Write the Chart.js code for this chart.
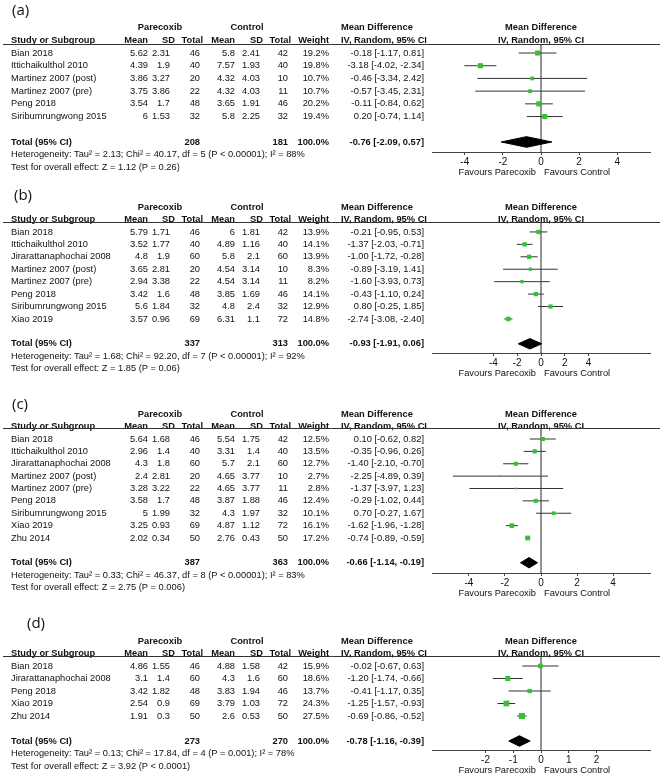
<!DOCTYPE html>
<html>
<head>
<meta charset="utf-8">
<title>Forest plots - Parecoxib vs Control</title>
<script src="https://cdn.jsdelivr.net/npm/chart.js@4.4.1/dist/chart.umd.min.js"></script>
<style>
  html, body { margin: 0; padding: 0; background: #fff; }
  #page { position: relative; width: 660px; height: 777px; overflow: hidden; }
  #page canvas { position: absolute; left: 0; }
</style>
</head>
<body>
<div id="page">
  <canvas id="plotA" width="660" height="188" style="top:0px"></canvas>
  <canvas id="plotB" width="660" height="202" style="top:188px"></canvas>
  <canvas id="plotC" width="660" height="210" style="top:390px"></canvas>
  <canvas id="plotD" width="660" height="177" style="top:600px"></canvas>
</div>
<script>
// === Panel (a) ===
const studiesA = ["Bian 2018", "Ittichaikulthol 2010", "Martinez 2007 (post)", "Martinez 2007 (pre)", "Peng 2018", "Siribumrungwong 2015"];
const parMeanA = [5.62, 4.39, 3.86, 3.75, 3.54, 6];
const parSdA = [2.31, 1.9, 3.27, 3.86, 1.7, 1.53];
const parNA = [46, 40, 20, 22, 48, 32];
const ctlMeanA = [5.8, 7.57, 4.32, 4.32, 3.65, 5.8];
const ctlSdA = [2.41, 1.93, 4.03, 4.03, 1.91, 2.25];
const ctlNA = [42, 40, 10, 11, 46, 32];
const weightA = [19.2, 19.8, 10.7, 10.7, 20.2, 19.4];
const mdA = [-0.18, -3.18, -0.46, -0.57, -0.11, 0.20];
const lowA = [-1.17, -4.02, -3.34, -3.45, -0.84, -0.74];
const highA = [0.81, -2.34, 2.42, 2.31, 0.62, 1.14];
const totalNA = [208, 181];
const totalMdA = [-0.76, -2.09, 0.57];
const hetA = "Heterogeneity: Tau² = 2.13; Chi² = 40.17, df = 5 (P < 0.00001); I² = 88%";
const testA = "Test for overall effect: Z = 1.12 (P = 0.26)";
const ticksA = [-4, -2, 0, 2, 4];

// === Panel (b) ===
const studiesB = ["Bian 2018", "Ittichaikulthol 2010", "Jirarattanaphochai 2008", "Martinez 2007 (post)", "Martinez 2007 (pre)", "Peng 2018", "Siribumrungwong 2015", "Xiao 2019"];
const parMeanB = [5.79, 3.52, 4.8, 3.65, 2.94, 3.42, 5.6, 3.57];
const parSdB = [1.71, 1.77, 1.9, 2.81, 3.38, 1.6, 1.84, 0.96];
const parNB = [46, 40, 60, 20, 22, 48, 32, 69];
const ctlMeanB = [6, 4.89, 5.8, 4.54, 4.54, 3.85, 4.8, 6.31];
const ctlSdB = [1.81, 1.16, 2.1, 3.14, 3.14, 1.69, 2.4, 1.1];
const ctlNB = [42, 40, 60, 10, 11, 46, 32, 72];
const weightB = [13.9, 14.1, 13.9, 8.3, 8.2, 14.1, 12.9, 14.8];
const mdB = [-0.21, -1.37, -1.00, -0.89, -1.60, -0.43, 0.80, -2.74];
const lowB = [-0.95, -2.03, -1.72, -3.19, -3.93, -1.10, -0.25, -3.08];
const highB = [0.53, -0.71, -0.28, 1.41, 0.73, 0.24, 1.85, -2.40];
const totalNB = [337, 313];
const totalMdB = [-0.93, -1.91, 0.06];
const hetB = "Heterogeneity: Tau² = 1.68; Chi² = 92.20, df = 7 (P < 0.00001); I² = 92%";
const testB = "Test for overall effect: Z = 1.85 (P = 0.06)";
const ticksB = [-4, -2, 0, 2, 4];

// === Panel (c) ===
const studiesC = ["Bian 2018", "Ittichaikulthol 2010", "Jirarattanaphochai 2008", "Martinez 2007 (post)", "Martinez 2007 (pre)", "Peng 2018", "Siribumrungwong 2015", "Xiao 2019", "Zhu 2014"];
const parMeanC = [5.64, 2.96, 4.3, 2.4, 3.28, 3.58, 5, 3.25, 2.02];
const parSdC = [1.68, 1.4, 1.8, 2.81, 3.22, 1.7, 1.99, 0.93, 0.34];
const parNC = [46, 40, 60, 20, 22, 48, 32, 69, 50];
const ctlMeanC = [5.54, 3.31, 5.7, 4.65, 4.65, 3.87, 4.3, 4.87, 2.76];
const ctlSdC = [1.75, 1.4, 2.1, 3.77, 3.77, 1.88, 1.97, 1.12, 0.43];
const ctlNC = [42, 40, 60, 10, 11, 46, 32, 72, 50];
const weightC = [12.5, 13.5, 12.7, 2.7, 2.8, 12.4, 10.1, 16.1, 17.2];
const mdC = [0.10, -0.35, -1.40, -2.25, -1.37, -0.29, 0.70, -1.62, -0.74];
const lowC = [-0.62, -0.96, -2.10, -4.89, -3.97, -1.02, -0.27, -1.96, -0.89];
const highC = [0.82, 0.26, -0.70, 0.39, 1.23, 0.44, 1.67, -1.28, -0.59];
const totalNC = [387, 363];
const totalMdC = [-0.66, -1.14, -0.19];
const hetC = "Heterogeneity: Tau² = 0.33; Chi² = 46.37, df = 8 (P < 0.00001); I² = 83%";
const testC = "Test for overall effect: Z = 2.75 (P = 0.006)";
const ticksC = [-4, -2, 0, 2, 4];

// === Panel (d) ===
const studiesD = ["Bian 2018", "Jirarattanaphochai 2008", "Peng 2018", "Xiao 2019", "Zhu 2014"];
const parMeanD = [4.86, 3.1, 3.42, 2.54, 1.91];
const parSdD = [1.55, 1.4, 1.82, 0.9, 0.3];
const parND = [46, 60, 48, 69, 50];
const ctlMeanD = [4.88, 4.3, 3.83, 3.79, 2.6];
const ctlSdD = [1.58, 1.6, 1.94, 1.03, 0.53];
const ctlND = [42, 60, 46, 72, 50];
const weightD = [15.9, 18.6, 13.7, 24.3, 27.5];
const mdD = [-0.02, -1.20, -0.41, -1.25, -0.69];
const lowD = [-0.67, -1.74, -1.17, -1.57, -0.86];
const highD = [0.63, -0.66, 0.35, -0.93, -0.52];
const totalND = [273, 270];
const totalMdD = [-0.78, -1.16, -0.39];
const hetD = "Heterogeneity: Tau² = 0.13; Chi² = 17.84, df = 4 (P = 0.001); I² = 78%";
const testD = "Test for overall effect: Z = 3.92 (P < 0.0001)";
const ticksD = [-2, -1, 0, 1, 2];

// === Estilo / layout ===
const FONT = "'Liberation Sans', Arial, sans-serif";
const REG = "9.3px " + FONT;
const BOLD = "bold 9.3px " + FONT;
const TXT = "#111";
const GREEN = "#36c036";
const HEAD_X = [148, 175, 203, 235, 263, 291, 329];
const VAL_X = [148, 170, 200, 235, 260, 288, 329];
const MD_LEFT = 341, MD_RIGHT = 424;

// top/axis are pixel offsets inside each canvas, off/yMax are in row units
const layoutA = { label: "(a)", labelX: 12, labelY: 11, top: 44, axis: 152, off: 0.71, yMax: 8.5, xMin: -5.72, xMax: 5.72 };
const layoutB = { label: "(b)", labelX: 14, labelY: 8, top: 34, axis: 165, off: 0.8, yMax: 10.54, xMin: -9.15, xMax: 9.15 };
const layoutC = { label: "(c)", labelX: 12, labelY: 15, top: 38, axis: 183, off: 0.89, yMax: 11.72, xMin: -6.05, xMax: 6.05 };
const layoutD = { label: "(d)", labelX: 27, labelY: 24, top: 56, axis: 150, off: 0.8, yMax: 7.52, xMin: -3.93, xMax: 3.93 };

function fmtCI(md, lo, hi){
  return `${md.toFixed(2)} [${lo.toFixed(2)}, ${hi.toFixed(2)}]`;
}

// === Painel ===
function makePanel(canvasId, p, lay){
  const canvas = document.getElementById(canvasId);
  const H = canvas.height;
  const n = p.studies.length;
  const totalRow = n + 1;
  const yT = totalRow + lay.off;

  const datasets = [];
  // quadrados (peso)
  datasets.push({
    data: p.md.map((v, i) => ({ x: v, y: i + lay.off })),
    pointStyle: "rect",
    pointRadius: p.weight.map(w => Math.sqrt(w) * 0.82),
    pointBackgroundColor: GREEN,
    pointBorderWidth: 0,
    showLine: false,
    order: 0
  });
  // diamante do total
  datasets.push({
    data: [
      { x: p.totalMd[1], y: yT },
      { x: p.totalMd[0], y: yT - 0.42 },
      { x: p.totalMd[2], y: yT },
      { x: p.totalMd[0], y: yT + 0.42 },
      { x: p.totalMd[1], y: yT }
    ],
    showLine: true,
    borderColor: "#000",
    borderWidth: 1,
    backgroundColor: "#000",
    fill: "shape",
    pointRadius: 0,
    tension: 0,
    order: 1
  });
  // intervalos de confiança
  p.md.forEach((v, i) => {
    datasets.push({
      data: [{ x: p.low[i], y: i + lay.off }, { x: p.high[i], y: i + lay.off }],
      showLine: true,
      borderColor: "#333",
      borderWidth: 1,
      pointRadius: 0,
      order: 2
    });
  });
  // linha do zero
  datasets.push({
    data: [{ x: 0, y: 0 }, { x: 0, y: lay.yMax }],
    showLine: true,
    borderColor: "#939393",
    borderWidth: 2,
    pointRadius: 0,
    order: 3
  });

  const tablePlugin = {
    id: "forestTable",
    afterDraw(chart){
      const ctx = chart.ctx;
      const ys = chart.scales.y, xs = chart.scales.x;
      const area = chart.chartArea;
      const rowY = r => ys.getPixelForValue(r + lay.off);
      const zeroX = xs.getPixelForValue(0);

      ctx.save();
      ctx.fillStyle = TXT;
      ctx.textBaseline = "middle";

      ctx.font = "15px 'Open Sans', sans-serif";
      ctx.textAlign = "left";
      ctx.fillText(lay.label, lay.labelX, lay.labelY);

      // cabeçalhos
      ctx.font = BOLD;
      ctx.textAlign = "center";
      ctx.fillText("Parecoxib", 160, rowY(-2));
      ctx.fillText("Control", 247, rowY(-2));
      ctx.fillText("Mean Difference", zeroX, rowY(-2));
      ctx.fillText("IV, Random, 95% CI", zeroX, rowY(-1));
      ctx.textAlign = "left";
      ctx.fillText("Study or Subgroup", 11, rowY(-1));
      ctx.fillText("Mean Difference", MD_LEFT, rowY(-2));
      ctx.fillText("IV, Random, 95% CI", MD_LEFT, rowY(-1));
      ctx.textAlign = "right";
      ["Mean", "SD", "Total", "Mean", "SD", "Total", "Weight"].forEach((h, k) => ctx.fillText(h, HEAD_X[k], rowY(-1)));

      ctx.strokeStyle = "#333";
      ctx.lineWidth = 1;
      ctx.beginPath();
      ctx.moveTo(3, Math.round(area.top) + 0.5);
      ctx.lineTo(660, Math.round(area.top) + 0.5);
      ctx.stroke();

      // linhas dos estudos
      ctx.font = REG;
      p.studies.forEach((s, i) => {
        const yy = rowY(i);
        ctx.textAlign = "left";
        ctx.fillText(s, 11, yy);
        ctx.textAlign = "right";
        const vals = [p.parMean[i], p.parSd[i], p.parN[i], p.ctlMean[i], p.ctlSd[i], p.ctlN[i]];
        vals.forEach((v, k) => ctx.fillText(String(v), VAL_X[k], yy));
        ctx.fillText(p.weight[i].toFixed(1) + "%", VAL_X[6], yy);
        ctx.fillText(fmtCI(p.md[i], p.low[i], p.high[i]), MD_RIGHT, yy);
      });

      // total
      ctx.font = BOLD;
      const yt = rowY(totalRow);
      ctx.textAlign = "left";
      ctx.fillText("Total (95% CI)", 11, yt);
      ctx.textAlign = "right";
      ctx.fillText(String(p.totalN[0]), VAL_X[2], yt);
      ctx.fillText(String(p.totalN[1]), VAL_X[5], yt);
      ctx.fillText("100.0%", VAL_X[6], yt);
      ctx.fillText(fmtCI(p.totalMd[0], p.totalMd[1], p.totalMd[2]), MD_RIGHT, yt);

      ctx.font = REG;
      ctx.textAlign = "left";
      ctx.fillText(p.het, 11, rowY(totalRow + 1));
      ctx.fillText(p.test, 11, rowY(totalRow + 2));

      // rótulos do eixo
      const yf = area.bottom + 20;
      ctx.textAlign = "right";
      ctx.fillText("Favours Parecoxib", zeroX - 5, yf);
      ctx.textAlign = "left";
      ctx.fillText("Favours Control", zeroX + 3, yf);
      ctx.restore();
    }
  };

  return new Chart(canvas, {
    type: "scatter",
    data: { datasets },
    options: {
      responsive: false,
      animation: false,
      devicePixelRatio: 1,
      events: [],
      layout: { padding: { left: 432, right: 10, top: lay.top, bottom: 0 } },
      plugins: { legend: { display: false }, tooltip: { enabled: false } },
      scales: {
        x: {
          type: "linear",
          min: lay.xMin,
          max: lay.xMax,
          afterBuildTicks: s => { s.ticks = p.ticks.map(v => ({ value: v })); },
          afterFit: s => { s.height = H - lay.axis; },
          grid: { display: true, drawOnChartArea: false, drawTicks: true, tickLength: 3, color: "#444" },
          border: { display: true, color: "#444", width: 1 },
          ticks: { color: TXT, font: { family: FONT, size: 10 }, padding: 1, maxRotation: 0, autoSkip: false, callback: v => String(v) }
        },
        y: { type: "linear", reverse: true, min: 0, max: lay.yMax, display: false }
      }
    },
    plugins: [tablePlugin]
  });
}

makePanel("plotA", {
  studies: studiesA, parMean: parMeanA, parSd: parSdA, parN: parNA,
  ctlMean: ctlMeanA, ctlSd: ctlSdA, ctlN: ctlNA, weight: weightA,
  md: mdA, low: lowA, high: highA, totalN: totalNA, totalMd: totalMdA,
  het: hetA, test: testA, ticks: ticksA
}, layoutA);

makePanel("plotB", {
  studies: studiesB, parMean: parMeanB, parSd: parSdB, parN: parNB,
  ctlMean: ctlMeanB, ctlSd: ctlSdB, ctlN: ctlNB, weight: weightB,
  md: mdB, low: lowB, high: highB, totalN: totalNB, totalMd: totalMdB,
  het: hetB, test: testB, ticks: ticksB
}, layoutB);

makePanel("plotC", {
  studies: studiesC, parMean: parMeanC, parSd: parSdC, parN: parNC,
  ctlMean: ctlMeanC, ctlSd: ctlSdC, ctlN: ctlNC, weight: weightC,
  md: mdC, low: lowC, high: highC, totalN: totalNC, totalMd: totalMdC,
  het: hetC, test: testC, ticks: ticksC
}, layoutC);

makePanel("plotD", {
  studies: studiesD, parMean: parMeanD, parSd: parSdD, parN: parND,
  ctlMean: ctlMeanD, ctlSd: ctlSdD, ctlN: ctlND, weight: weightD,
  md: mdD, low: lowD, high: highD, totalN: totalND, totalMd: totalMdD,
  het: hetD, test: testD, ticks: ticksD
}, layoutD);
</script>
</body>
</html>
